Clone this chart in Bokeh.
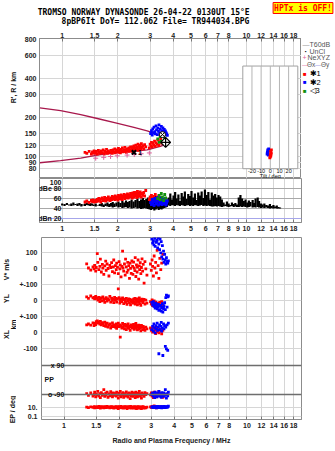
import math
import json
from bokeh.plotting import figure
from bokeh.layouts import column, row
from bokeh.models import (Range1d, LinearScale, LogScale, FixedTicker, Label, Span,
                          CustomJSTickFormatter)
from bokeh.embed import file_html
from bokeh.resources import INLINE
from bokeh.core.properties import value

# ---------------- data ----------------
freq_ticks_top = [1, 1.5, 2, 3, 4, 5, 6, 7, 8, 10, 12, 14, 16, 18]
freq_ticks_mid = [1, 1.5, 2, 3, 4, 5, 6, 7, 8, 9, 10, 12, 14, 16, 18]
freq_grid = [1, 1.5, 2, 3, 4, 5, 6, 7, 8, 10, 12, 14, 16, 18]
height_ticks = [80, 90, 100, 120, 150, 200, 300, 400, 600, 800]
amp_grid = [40, 60, 80]
amp_label_vals = [100, 80, 60, 40, 20]
amp_label_text = ["100", "dBe 80", "60", "40", "dBn 20"]
tilt_ticks = [-20, -10, 0, 10, 20]
tilt_grid = [-30, -20, -10, 0, 10, 20, 30]
tilt_box_h = [80, 500]

# model virtual-height traces
curve_up_f = [0.756, 0.98, 1.26, 1.55, 2.0, 2.45, 2.89, 3.14, 3.41, 3.64, 3.78, 3.84]
curve_up_h = [237, 226, 210, 196, 180, 167, 157, 151, 144, 137, 131, 128]
curve_lo_f = [0.756, 0.98, 1.26, 1.55, 1.91, 2.35, 2.89, 3.41, 3.71, 3.84]
curve_lo_h = [89, 92.5, 96.5, 102, 106, 108.7, 112, 119, 125, 128]

nexyz_f = [1.52, 1.68, 1.83, 1.99, 2.25, 2.46, 2.68, 2.97]
nexyz_h = [96.5, 98, 99.5, 100.7, 102, 103, 104.5, 106]

# red echoes (trace 1)
red_f = [1.33, 1.36, 1.40, 1.44, 1.46, 1.47, 1.49, 1.50,
         1.52, 1.53, 1.55, 1.57, 1.58, 1.60, 1.62, 1.63, 1.65, 1.67, 1.69, 1.70, 1.72, 1.74, 1.76, 1.78, 1.80, 1.82, 1.84, 1.86, 1.87, 1.89,
         1.91, 1.93, 1.94, 1.96, 1.98, 2.00, 2.02, 2.03, 2.05, 2.07, 2.09, 2.10, 2.12, 2.14, 2.16, 2.17, 2.19, 2.21, 2.23, 2.24, 2.26, 2.28, 2.30, 2.31, 2.33, 2.35,
         2.37, 2.38, 2.40, 2.42, 2.44, 2.45, 2.47, 2.49, 2.51, 2.52, 2.54, 2.56, 2.58, 2.59, 2.61, 2.63, 2.65, 2.67, 2.69, 2.71, 2.74, 2.77, 2.80, 2.84,
         2.97, 3.00, 3.03, 3.05, 3.08, 3.11, 3.14, 3.17, 3.20, 3.23, 3.27, 3.30, 3.34, 3.38, 3.42, 3.47]
red_h = [107, 105, 109, 104, 108, 106, 110, 105,
         106, 109, 104, 111, 107, 105, 110, 108, 106, 112, 104, 109, 107, 113, 105, 110, 108, 106, 111, 109, 105, 112,
         108, 114, 106, 110, 112, 107, 115, 109, 111, 106, 113, 110, 116, 108, 112, 109, 117, 111, 107, 114, 110, 113, 116, 109, 112, 118,
         111, 115, 109, 118, 113, 120, 110, 116, 122, 112, 117, 114, 124, 111, 119, 115, 121, 113, 125, 117, 120, 114, 123, 118,
         116, 124, 120, 128, 118, 126, 122, 131, 119, 127, 124, 133, 121, 129, 135, 126]
red_amp = [53, 55, 52, 56, 54, 57, 53, 55,
           56, 54, 58, 55, 60, 57, 53, 59, 61, 56, 58, 62, 55, 60, 57, 63, 59, 56, 61, 58, 64, 60,
           62, 58, 65, 60, 63, 57, 66, 61, 59, 64, 67, 62, 58, 65, 63, 68, 60, 66, 62, 64, 69, 61, 67, 63, 65, 70,
           64, 68, 61, 71, 66, 63, 72, 67, 65, 70, 62, 74, 68, 64, 71, 66, 73, 69, 63, 70, 67, 72, 65, 76,
           58, 63, 55, 66, 60, 54, 64, 59, 68, 56, 62, 57, 65, 60, 53, 61]
red_v = [31, 5, -8, 12, 0, 22, -15, 8,
         95, 40, -5, 15, 60, -20, 28, 5, -35, 18, 48, -10, 30, 2, -45, 22, 8, 38, -18, 12, 55, -25,
         20, -5, 35, 10, -30, 45, 0, 25, -50, 15, 110, 5, -15, 30, -40, 60, 12, -22, 40, -8, 20, -60, 35, 3, -28, 50,
         15, -35, 42, 5, -12, 70, -48, 25, -20, 10, 55, -65, 18, -5, 38, -30, 8, 62, -15, 28, -90, 45, 0, -40,
         30, -10, 55, 15, -45, 80, 5, 40, -25, 115, 20, -60, 65, -5, 35, 90]
red_yl = [25, 15, 30, 18, 22, 12, 28, 20,
          15, 5, 22, -5, 10, 18, 0, 25, 8, -10, 14, 20, -2, 12, 6, 28, -8, 16, 3, 10, -12, 22,
          5, 15, -8, 10, 75, 20, -15, 2, 12, -5, 18, 8, -18, 10, 0, -10, 15, -22, 5, -3, 12, -12, 8, -25, 2, -8,
          0, -15, 10, -5, 15, -20, 5, -10, 12, -25, 2, -8, 18, -18, 6, -28, 0, 10, -12, -2, 8, -20, 4, -15,
          -5, -20, 5, -30, -12, 0, -35, -8, -22, -40, -15, -28, -10, -25, -5, -32]
red_xl = [50, 55, 48, 62, 45, 58, 52, 70,
          75, 60, 68, 55, 72, 50, 64, 58, 45, 66, 40, 52, 60, 35, 48, 56, 30, 44, 62, 38, 50, 42,
          35, 55, 28, 45, 60, 38, 50, -27, 42, 30, 58, 36, 48, 25, 52, 40, 20, 46, 33, 55, 28, 42, 15, 38, 50, 32,
          45, 30, 52, 22, 40, 35, 58, 28, 44, 18, 38, 48, 25, 42, 32, 12, 46, 36, 20, 40, 30, 15, 35, 25,
          30, 15, 25, 5, 35, 10, 20, -5, 28, 8, 18, 0, 22, 12, -6, 15]
red_pp = [-85, -95, -80, -100, -90, -75, -105, -88,
          -92, -70, -100, -85, -110, -78, -95, -88, -60, -102, -82, -94, -75, -108, -86, -98, -72, -90, -104, -80, -96, -84,
          -88, -100, -76, -92, -112, -82, -96, -70, -104, -86, -94, -78, -108, -90, -84, -100, -74, -96, -88, -106, -80, -92, -115, -84, -98, -76,
          -90, -102, -80, -94, -86, -110, -76, -98, -88, -104, -82, -92, -70, -100, -86, -96, -112, -80, -94, -88, -102, -78, -90, -84,
          -92, -80, -100, -86, -110, -76, -94, -88, -104, -82, -96, -72, -90, -100, -84, -108]
red_ep = [10, 8, 12, 9, 14, 7, 11, 9,
          12, 8, 15, 10, 6, 13, 9, 11, 7, 14, 10, 8, 16, 9, 12, 7, 11, 13, 8, 10, 6, 12,
          9, 14, 7, 11, 5, 13, 8, 10, 16, 7, 12, 9, 6, 11, 14, 8, 10, 5, 13, 9, 7, 12, 8, 15, 6, 10,
          8, 12, 6, 10, 14, 7, 9, 5, 11, 8, 13, 6, 10, 7, 12, 9, 5, 11, 8, 14, 6, 9, 7, 10,
          12, 9, 15, 8, 11, 20, 10, 13, 7, 9, 14, 8, 11, 10, 12, 9]

# blue echoes (trace 2)
blue_f = [3.02, 3.05, 3.08, 3.10, 3.13, 3.15, 3.18, 3.20, 3.23, 3.25, 3.28, 3.30, 3.33, 3.35,
          3.38, 3.40, 3.42, 3.45, 3.47, 3.50, 3.52, 3.55, 3.58, 3.60, 3.63, 3.66, 3.69, 3.72]
blue_h = [150, 158, 146, 163, 152, 168, 155, 149, 172, 160, 147, 165, 156, 175,
          151, 162, 148, 170, 158, 153, 166, 150, 161, 147, 157, 152, 149, 145]
blue_amp = [52, 48, 58, 50, 55, 46, 60, 53, 49, 57, 51, 62, 47, 55,
            59, 50, 53, 61, 48, 56, 52, 58, 49, 54, 60, 47, 51, 55]
blue_v = [185, 160, 175, 150, 190, 140, 170, 165, 180, 130, 195, 155, 120, 185,
          100, 170, 75, 145, 60, 110, 40, 90, 55, 30, 70, 45, 35, 50]
blue_yl = [-10, -25, -5, -35, -20, -45, -15, -30, -50, -40, -22, -60, -35, -55,
           -28, -65, -42, -18, -70, -48, -30, -12, -55, 20, 35, -40, 25, 30]
blue_xl = [20, 40, 10, 55, 30, 0, 45, 25, 60, 15, 35, -131, 50, 20,
           40, 65, 10, 30, -142, 55, 25, 45, -85, 35, -100, 50, -110, 60]
blue_pp = [-90, -80, -100, -86, -110, -75, -95, -88, -104, -82, -96, -70, -92, -100,
           -84, -108, -78, -94, -88, -102, -80, -96, -60, -90, -112, -85, -98, -76]
blue_ep = [10, 12, 8, 14, 9, 11, 13, 7, 10, 15, 9, 12, 8, 11,
           14, 10, 7, 13, 9, 12, 16, 8, 11, 10, 14, 9, 12, 18]

# green echoes (trace 3)
green_f = [3.30, 3.36, 3.40, 3.45, 3.50, 3.55, 3.60, 3.64]
green_h = [136, 128, 142, 131, 146, 125, 138, 130]
green_amp = [60, 66, 58, 70, 63, 56, 68, 61]

# special markers
x1_f, x1_h = [2.45], [107]
nose_f, nose_h = [3.64], [128]
ring_f, ring_h = [3.50], [147]

# tilt inset
tilt_blue_t = [-3.5, -2.5, -3.0, -2.0, -2.8, -1.8, -3.2, -2.2]
tilt_blue_h = [104, 106, 108, 110, 112, 114, 107, 102]
tilt_red_t = [-0.5, 0.5, 0.0, 1.0, 0.3, 1.2, -0.2, 0.8, 0.4]
tilt_red_h = [97, 100, 103, 106, 109, 112, 99, 104, 101]

# T60dB amplitude bars
amp_f = [1.00, 1.03, 1.06, 1.09, 1.12, 1.15, 1.18, 1.21, 1.24, 1.27, 1.30, 1.33, 1.36, 1.39, 1.42, 1.45,
         1.48, 1.52, 1.56, 1.60, 1.64, 1.68, 1.72, 1.76, 1.80, 1.84, 1.88, 1.92, 1.97, 2.02, 2.07, 2.12, 2.17, 2.22, 2.27, 2.32,
         2.38, 2.44, 2.50, 2.56, 2.62, 2.68, 2.74, 2.80, 2.86, 2.92,
         2.98, 3.04, 3.10, 3.16, 3.22, 3.28, 3.34, 3.40, 3.46, 3.52, 3.58, 3.64, 3.70,
         3.78, 3.86, 3.94, 4.02, 4.10, 4.18, 4.27, 4.36, 4.45, 4.54, 4.63, 4.73, 4.83, 4.93, 5.03, 5.14, 5.25, 5.36, 5.47, 5.59,
         5.71, 5.83, 5.95, 6.08, 6.21, 6.34, 6.48,
         6.62, 6.76, 6.90, 7.05, 7.20, 7.35, 7.51, 7.67, 7.83, 8.00, 8.17, 8.34, 8.52, 8.70, 8.89,
         9.08, 9.27, 9.47, 9.67, 9.88, 10.1, 10.3, 10.5, 10.8, 11.0, 11.2, 11.5, 11.7, 12.0,
         12.2, 12.5, 12.8, 13.1, 13.4, 13.7, 14.0, 14.3, 14.6, 14.9, 15.2]
amp_lo = [46, 45, 47, 46, 45, 46, 47, 45, 46, 44, 46, 45, 47, 46, 45, 46,
          45, 44, 46, 45, 44, 43, 45, 44, 43, 44, 42, 43, 44, 42, 43, 41, 42, 43, 41, 42,
          40, 41, 42, 40, 41, 39, 40, 41, 40, 39,
          38, 37, 39, 36, 38, 40, 37, 39, 38, 40, 41, 42, 43,
          46, 45, 47, 46, 45, 47, 46, 45, 47, 46, 45, 46, 47, 45, 46, 45, 47, 46, 45, 46,
          47, 45, 46, 45, 46, 45, 44,
          44, 45, 44, 45, 44, 43, 44, 45, 44, 43, 44, 45, 43, 44, 43,
          43, 44, 43, 44, 43, 42, 43, 44, 42, 43, 42, 43, 42, 41,
          42, 41, 42, 41, 40, 41, 40, 41, 40, 40, 40]
amp_hi = [50, 49, 51, 48, 50, 52, 49, 50, 51, 49, 48, 50, 52, 49, 51, 50,
          48, 50, 47, 49, 51, 48, 50, 52, 49, 51, 53, 50, 52, 54, 51, 55, 52, 56, 53, 55,
          58, 54, 57, 60, 55, 58, 61, 57, 59, 62,
          60, 56, 63, 58, 65, 55, 62, 57, 64, 59, 61, 56, 58,
          62, 70, 58, 66, 73, 60, 68, 55, 71, 64, 74, 59, 69, 65, 75, 62, 70, 57, 72, 66,
          74, 61, 78, 67, 73, 58, 72,
          66, 69, 62, 67, 64, 58, 52, 48, 54, 50, 47, 52, 49, 51, 48,
          62, 67, 60, 55, 58, 52, 56, 53, 57, 51, 60, 62, 55, 50,
          48, 50, 47, 46, 49, 45, 47, 44, 46, 43, 42]

# ---------------- layout helpers (pixel -> data) ----------------
FL, FR = 39, 301


def fx(px):
    return 10 ** ((px - 61.7) / 184.3)


def ya(py):
    return 100.0 * 10 ** ((155.7 - py) / 129.0)


def yb(py):
    return 100.0 - (py - 178.0) * 2.0


def yc(py):
    return (268.3 - py) * 6.25


def py_v(v):
    return 268.3 - v / 6.25


def py_yl(v):
    return 300.3 - v / 6.25


def py_xl(v):
    return 332.3 - v / 6.25


def py_pp(v):
    return 394.0 - (v + 90.0) * 29.0 / 180.0


def py_ep(v):
    return 406.7 - (math.log10(v) - 1.0) * 4.5


def tilt(px):
    return (px - 269.8) / 0.9167


SANS = "Liberation Sans"
MONO = "DejaVu Sans Mono"
GRID = "#d6d6d6"
FRAME = "#8c8c8c"
RED, BLUE, GREEN = "#ff0000", "#0000ff", "#10900f"
CURVE = "#a8184c"
PINK = "#e0609a"
TICK_SIZE = "7px"
MS = 2.8  # echo marker size


def no_align(p):
    if "frame_align" in type(p).properties():
        p.frame_align = False
    return p


def txt(p, x, y, text, size="7px", color="#111111", align="left", baseline="middle",
        angle=0.0, font=SANS, style="bold", **kw):
    p.add_layout(Label(x=x, y=y, text=text, text_font=font, text_font_size=size,
                       text_color=color, text_align=align, text_baseline=baseline,
                       angle=angle, text_font_style=style, **kw))


def pane(width, height, x0, x1, py_bottom, py_top):
    """Blank pixel-addressed panel used for texts outside the data frames."""
    p = figure(width=width, height=height, x_range=Range1d(x0, x1),
               y_range=Range1d(py_bottom, py_top), x_axis_location=None, y_axis_location=None,
               toolbar_location=None, output_backend="svg", min_border_left=0,
               min_border_right=0, min_border_top=0, min_border_bottom=0)
    p.outline_line_color = None
    p.grid.visible = False
    return no_align(p)


def style_x(p, ticks):
    p.outline_line_color = FRAME
    p.xgrid.ticker = FixedTicker(ticks=freq_grid)
    p.xgrid.grid_line_color = GRID
    if ticks is not None:
        ax = p.xaxis[0]
        ax.ticker = FixedTicker(ticks=ticks)
        ax.formatter = CustomJSTickFormatter(code="return String(tick);")
        ax.major_tick_in = 3
        ax.major_tick_out = 0
        ax.major_tick_line_color = "#777777"
        ax.minor_tick_line_color = None
        ax.axis_line_color = FRAME
        ax.major_label_text_font = SANS
        ax.major_label_text_font_style = "bold"
        ax.major_label_text_font_size = TICK_SIZE
        ax.major_label_text_color = "#222222"
        ax.major_label_standoff = 3


def style_y(ax, standoff):
    ax.major_tick_in = 0
    ax.major_tick_out = 0
    ax.minor_tick_line_color = None
    ax.axis_line_color = FRAME
    ax.major_label_text_font = SANS
    ax.major_label_text_font_style = "bold"
    ax.major_label_text_font_size = TICK_SIZE
    ax.major_label_text_color = "#222222"
    ax.major_label_standoff = standoff


FREQ_RANGE = Range1d(fx(FL), fx(FR))

# ================= header =================
fh = pane(335, 26, 0, 335, 26, 0)
txt(fh, 148, 12, "TROMSO NORWAY   DYNASONDE 26-04-22 0130UT 15\u00b0E", size="8px",
    align="center", font=MONO, style="bold", color="#000000")
txt(fh, 155, 20.5, "8pBP6It DoY= 112.062 File= TR944034.BPG", size="8px",
    align="center", font=MONO, style="bold", color="#000000")
txt(fh, 302.5, 7.5, "HPTx is OFF!", size="8px", align="center", font=MONO, style="bold",
    color="#ff0000", background_fill_color="#ffff00", border_line_color="#ff0000",
    border_line_width=1, padding=1)

# ================= Figure A : height panel =================
fa_lab = pane(20, 152, 0, 20, 178, 26)
txt(fa_lab, 13, 87, "R', R / km", angle=math.pi / 2, align="center")

fa = figure(width=281, height=152, x_axis_type="log", y_axis_type="log",
            x_range=FREQ_RANGE, y_range=Range1d(ya(178), ya(38)),
            x_axis_location="above", toolbar_location=None, output_backend="svg",
            min_border_left=19, min_border_right=0, min_border_top=12, min_border_bottom=0)
no_align(fa)
style_x(fa, freq_ticks_top)
fa.xaxis[0].major_label_standoff = 1
ay = fa.yaxis[0]
ay.ticker = FixedTicker(ticks=height_ticks)
ay.formatter = CustomJSTickFormatter(code="return String(tick);")
style_y(ay, 3)
fa.ygrid.ticker = FixedTicker(ticks=height_ticks[:-1])
fa.ygrid.grid_line_color = GRID

fa.extra_x_ranges = {"tilt": Range1d(tilt(FL), tilt(FR))}
fa.extra_x_scales = {"tilt": LinearScale()}

# tilt inset
fa.quad(left=[tilt_grid[0]], right=[tilt_grid[-1]], bottom=[tilt_box_h[0]], top=[tilt_box_h[1]],
        x_range_name="tilt", fill_color="white", line_color="#a0a0a0", line_width=1)
fa.segment(x0=tilt_grid[1:-1], x1=tilt_grid[1:-1],
           y0=[tilt_box_h[0]] * (len(tilt_grid) - 2), y1=[tilt_box_h[1]] * (len(tilt_grid) - 2),
           x_range_name="tilt", line_color="#b4b4b4", line_width=1)
for t in tilt_ticks:
    txt(fa, t, ya(170.5), str(t), size="5.5px", align="center", x_range_name="tilt", style="normal")
txt(fa, 0, ya(175), "Tilt / deg", size="5.5px", align="center", x_range_name="tilt", style="normal")
fa.scatter(tilt_blue_t, tilt_blue_h, x_range_name="tilt", marker="square", size=MS,
           fill_color=BLUE, line_color=None)
fa.scatter(tilt_red_t, tilt_red_h, x_range_name="tilt", marker="square", size=MS,
           fill_color=RED, line_color=None)

# model traces
fa.line(curve_up_f, curve_up_h, line_color=CURVE, line_width=1.3)
fa.line(curve_lo_f, curve_lo_h, line_color=CURVE, line_width=1.3)
# echoes
fa.scatter(red_f, red_h, marker="square", size=MS, fill_color=RED, line_color=None)
fa.scatter(blue_f, blue_h, marker="square", size=MS, fill_color=BLUE, line_color=None)
fa.scatter(green_f, green_h, marker="square", size=MS, fill_color=GREEN, line_color=None)
fa.scatter(nexyz_f, nexyz_h, marker="cross", size=5, line_color=PINK, line_width=1)
fa.scatter(x1_f, x1_h, marker="x", size=6, line_color="black", line_width=2)
fa.text(x1_f, x1_h, text=["1"], x_offset=4, text_font=value(SANS), text_font_size="7px",
        text_baseline="middle", text_color="black", text_font_style="bold")
fa.scatter(nose_f, nose_h, marker="square_x", angle=math.pi / 4, size=7,
           fill_color="white", line_color="black", line_width=1.2)
fa.scatter(ring_f, ring_h, marker="circle_x", size=6, fill_color="white",
           line_color="black", line_width=1)

# legend pane (right margin)
fa_leg = pane(34, 152, 301, 335, 178, 26)
LG = "#555555"
txt(fa_leg, 302, 43.5, "\u2014", size="7px", color="#9a9a9a", style="normal")
txt(fa_leg, 309, 43.5, "T60dB", size="7px", color=LG, style="normal")
txt(fa_leg, 304, 50.5, "\u00b7", size="8px", color="#000000", style="bold")
txt(fa_leg, 309, 50.5, "UnCl", size="7px", color=LG, style="normal")
txt(fa_leg, 302, 57, "+", size="7px", color=PINK, style="normal")
txt(fa_leg, 307, 57, "NeXYZ", size="7px", color=LG, style="normal")
txt(fa_leg, 301.5, 64, "\u2014", size="6px", color=PINK, style="normal")
txt(fa_leg, 306.5, 64, "\u0398x", size="6.5px", color=LG, style="normal")
txt(fa_leg, 314.5, 64, "\u2014", size="6px", color="#8080e0", style="normal")
txt(fa_leg, 320.5, 64, "\u0398y", size="6.5px", color=LG, style="normal")
txt(fa_leg, 302.5, 73, "\u25a0", size="6px", color=RED, style="normal")
txt(fa_leg, 309, 73, "\u27311", size="7.5px", color="#000000", style="normal")
txt(fa_leg, 302.5, 81.5, "\u25a0", size="6px", color=BLUE, style="normal")
txt(fa_leg, 309, 81.5, "\u27312", size="7.5px", color="#000000", style="normal")
txt(fa_leg, 302.5, 90, "\u25a0", size="6px", color=GREEN, style="normal")
txt(fa_leg, 309, 90, "\u25c13", size="7.5px", color="#000000", style="normal")

# ================= Figure B : amplitude panel =================
fb = figure(width=335, height=59, x_axis_type="log", x_range=FREQ_RANGE,
            y_range=Range1d(yb(222), yb(178)), x_axis_location="below", y_axis_location=None,
            toolbar_location=None, output_backend="svg",
            min_border_left=39, min_border_right=34, min_border_top=0, min_border_bottom=15)
no_align(fb)
style_x(fb, freq_ticks_mid)
fb.ygrid.ticker = FixedTicker(ticks=amp_grid)
fb.ygrid.grid_line_color = "#a8a8a8"
fb.ygrid.grid_line_width = 1.2
fb.add_layout(Span(location=amp_label_vals[-1], dimension="width", line_color="#a6a6ea", line_width=1.2))
fb.segment(x0=amp_f, x1=amp_f, y0=amp_lo, y1=amp_hi, line_color="black", line_width=2.2)
fb.scatter(red_f, red_amp, marker="square", size=MS, fill_color=RED, line_color=None)
fb.scatter(blue_f, blue_amp, marker="square", size=MS, fill_color=BLUE, line_color=None)
fb.scatter(green_f, green_amp, marker="square", size=MS, fill_color=GREEN, line_color=None)
for v, t in zip(amp_label_vals, amp_label_text):
    yv = yb(182) if v == amp_label_vals[0] else v
    txt(fb, fx(61), yv, t, align="right")

# ================= Figure C : V*, YL, XL, PP, EP =================
fc_lab = pane(16, 214, 0, 16, 451, 237)
txt(fc_lab, 6, 269, "V* m/s", angle=math.pi / 2, align="center")
txt(fc_lab, 6, 298, "YL", angle=math.pi / 2, align="center")
txt(fc_lab, 12.5, 324, "km", angle=math.pi / 2, align="center")
txt(fc_lab, 6, 334, "XL", angle=math.pi / 2, align="center")
txt(fc_lab, 12, 409, "EP / deg", angle=math.pi / 2, align="center")

fc = figure(width=319, height=214, x_axis_type="log", x_range=FREQ_RANGE,
            y_range=Range1d(yc(419), yc(237)), x_axis_location="below", y_axis_location="left",
            toolbar_location=None, output_backend="svg",
            min_border_left=23, min_border_right=34, min_border_top=0, min_border_bottom=32)
no_align(fc)
style_x(fc, freq_ticks_top)
ax = fc.xaxis[0]
ax.axis_label = "Radio and Plasma Frequency / MHz"
ax.axis_label_text_font = SANS
ax.axis_label_text_font_style = "bold"
ax.axis_label_text_font_size = "7px"
ax.axis_label_text_color = "#222222"
ax.axis_label_standoff = 6

fc.extra_y_ranges = {
    "yl": Range1d((300.3 - 419) * 6.25, (300.3 - 237) * 6.25),
    "xl": Range1d((332.3 - 419) * 6.25, (332.3 - 237) * 6.25),
    "pp": Range1d(-90.0 + (394.0 - 419) * 180.0 / 29.0, -90.0 + (394.0 - 237) * 180.0 / 29.0),
    "ep": Range1d(10 ** (1 + (406.7 - 419) / 4.5), 10 ** (1 + (406.7 - 237) / 4.5)),
}
fc.extra_y_scales = {"ep": LogScale()}

c_tick_py = [py_v(100), py_v(0), py_v(-100), py_yl(0), py_yl(-100), py_xl(0), py_xl(-100),
             py_ep(10), py_ep(0.1)]
c_tick_text = ["100", "0", "+-100", "0", "+-100", "0", "-100", "10.", "0.1"]
c_tick_pos = [int(round(yc(q))) for q in c_tick_py]
c_map = {str(k): t for k, t in zip(c_tick_pos, c_tick_text)}
cy = fc.yaxis[0]
cy.ticker = FixedTicker(ticks=c_tick_pos)
cy.formatter = CustomJSTickFormatter(
    code="const m = %s; const k = String(Math.round(tick)); return (k in m) ? m[k] : '';" % json.dumps(c_map))
style_y(cy, 4)
cy.axis_line_color = None
fc.ygrid.ticker = FixedTicker(ticks=c_tick_pos)
fc.ygrid.grid_line_color = GRID
for pv in (90, -90):
    fc.add_layout(Span(location=yc(py_pp(pv)), dimension="width", line_color="#6e6e6e", line_width=1.3))

fc.scatter(red_f, red_v, marker="square", size=MS, fill_color=RED, line_color=None)
fc.scatter(blue_f, blue_v, marker="square", size=MS, fill_color=BLUE, line_color=None)
fc.scatter(red_f, red_yl, y_range_name="yl", marker="square", size=MS, fill_color=RED, line_color=None)
fc.scatter(blue_f, blue_yl, y_range_name="yl", marker="square", size=MS, fill_color=BLUE, line_color=None)
fc.scatter(red_f, red_xl, y_range_name="xl", marker="square", size=MS, fill_color=RED, line_color=None)
fc.scatter(blue_f, blue_xl, y_range_name="xl", marker="square", size=MS, fill_color=BLUE, line_color=None)
fc.scatter(red_f, red_pp, y_range_name="pp", marker="square", size=MS, fill_color=RED, line_color=None)
fc.scatter(blue_f, blue_pp, y_range_name="pp", marker="square", size=MS, fill_color=BLUE, line_color=None)
fc.scatter(red_f, red_ep, y_range_name="ep", marker="square", size=MS, fill_color=RED, line_color=None)
fc.scatter(blue_f, blue_ep, y_range_name="ep", marker="square", size=MS, fill_color=BLUE, line_color=None)

txt(fc, fx(62), yc(py_pp(90)), "x 90", align="right")
txt(fc, fx(62), yc(py_pp(-90)), "o -90", align="right")
txt(fc, fx(42), yc(379), "PP")

layout = column(fh, row(fa_lab, fa, fa_leg, spacing=0), fb, row(fc_lab, fc, spacing=0), spacing=0)
open("out.html", "w").write(file_html(layout, INLINE))
